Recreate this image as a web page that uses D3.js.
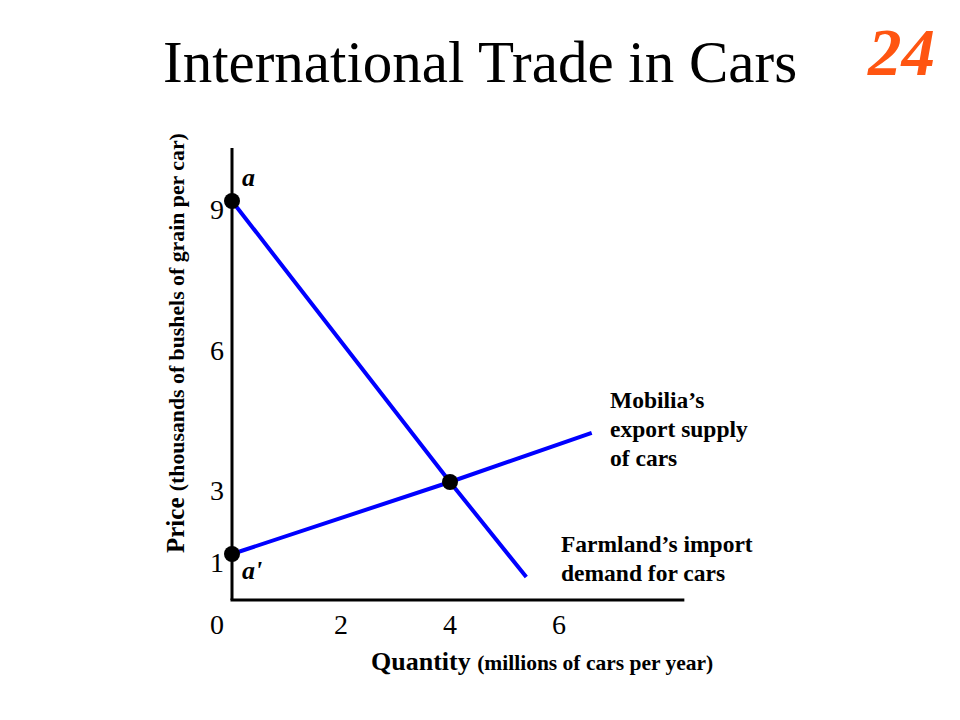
<!DOCTYPE html>
<html><head><meta charset="utf-8">
<script src="https://cdn.jsdelivr.net/npm/d3@7"></script>
<style>body{margin:0;background:#fff}svg{display:block}text{font-family:"Liberation Serif","Times New Roman",serif}</style>
</head><body>
<svg id="c" width="960" height="720"></svg>
<script>
// ---- data ----
const titleText = "International Trade in Cars";
const slideNumber = "24";
const xTicks = [2, 4, 6];
const yTicks = [1, 3, 6, 9];
const demand = [ {q: 0, p: 9}, {q: 4, p: 3}, {q: 5.4, p: 0.5} ];   // Farmland's import demand
const supply = [ {q: 0, p: 1}, {q: 4, p: 3}, {q: 6.6, p: 4.05} ];  // Mobilia's export supply
const points = [
  {name: "a",  q: 0, p: 9},
  {name: "a'", q: 0, p: 1},
  {name: "e",  q: 4, p: 3}
];
const supplyLabel = ["Mobilia\u2019s", "export supply", "of cars"];
const demandLabel = ["Farmland\u2019s import", "demand for cars"];
const axisMax = {q: 8.3, p: 10.13};

// ---- scales (diagram is not drawn to scale: piecewise-linear price axis) ----
const x = d3.scaleLinear().domain([0, 6]).range([232, 559]);
const y = d3.scaleLinear().domain([0, 1, 3, 9]).range([600, 554, 482, 201]);

const svg = d3.select("#c");

// title
svg.append("text").attr("x", 163).attr("y", 82).attr("font-size", 59).attr("fill", "#000").text(titleText);
svg.append("text").attr("x", 868).attr("y", 75).attr("font-size", 67).attr("font-weight", "bold")
  .attr("font-style", "italic").attr("fill", "#ff5511").text(slideNumber);

// axes lines
svg.append("line").attr("x1", x(0)).attr("x2", x(0)).attr("y1", y(axisMax.p)).attr("y2", y(0))
  .attr("stroke", "#000").attr("stroke-width", 3);
svg.append("line").attr("x1", x(0) - 1.5).attr("x2", x(axisMax.q)).attr("y1", y(0)).attr("y2", y(0))
  .attr("stroke", "#000").attr("stroke-width", 3);

// tick labels
svg.selectAll(".xt").data(xTicks).enter().append("text")
  .attr("x", d => x(d)).attr("y", y(0) + 34).attr("text-anchor", "middle").attr("font-size", 28).text(d => d);
svg.append("text").attr("x", x(0) - 15).attr("y", y(0) + 34).attr("text-anchor", "middle").attr("font-size", 28).text(0);
svg.selectAll(".yt").data(yTicks).enter().append("text")
  .attr("x", x(0) - 15).attr("y", d => y(d) + 18).attr("text-anchor", "middle").attr("font-size", 28).text(d => d);

// axis titles
const xl = svg.append("text").attr("x", 371).attr("y", 670).attr("font-weight", "bold");
xl.append("tspan").attr("font-size", 26).text("Quantity ");
xl.append("tspan").attr("font-size", 21.5).text("(millions of cars per year)");
const yl = svg.append("text").attr("transform", "translate(184,553) rotate(-90)").attr("font-weight", "bold");
yl.append("tspan").attr("font-size", 25).text("Price ");
yl.append("tspan").attr("font-size", 21.8).text("(thousands of bushels of grain per car)");

// curves
const line = d3.line().x(d => x(d.q)).y(d => y(d.p));
[demand, supply].forEach(s => {
  svg.append("path").datum(s).attr("d", line).attr("fill", "none")
    .attr("stroke", "#0000ff").attr("stroke-width", 4);
});

// points
svg.selectAll(".pt").data(points).enter().append("circle")
  .attr("cx", d => x(d.q)).attr("cy", d => y(d.p)).attr("r", 8).attr("fill", "#000");

// point labels
svg.append("text").attr("x", x(0) + 10).attr("y", y(9) - 15).attr("font-size", 26)
  .attr("font-weight", "bold").attr("font-style", "italic").text("a");
svg.append("text").attr("x", x(0) + 10).attr("y", y(1) + 25).attr("font-size", 26)
  .attr("font-weight", "bold").attr("font-style", "italic").text("a'");

// curve labels
svg.selectAll(".sl").data(supplyLabel).enter().append("text")
  .attr("x", 610).attr("y", (d, i) => 408 + i * 29).attr("font-size", 23.5).attr("font-weight", "bold").text(d => d);
svg.selectAll(".dl").data(demandLabel).enter().append("text")
  .attr("x", 561).attr("y", (d, i) => 552 + i * 29).attr("font-size", 23.5).attr("font-weight", "bold").text(d => d);
</script>
</body></html>
